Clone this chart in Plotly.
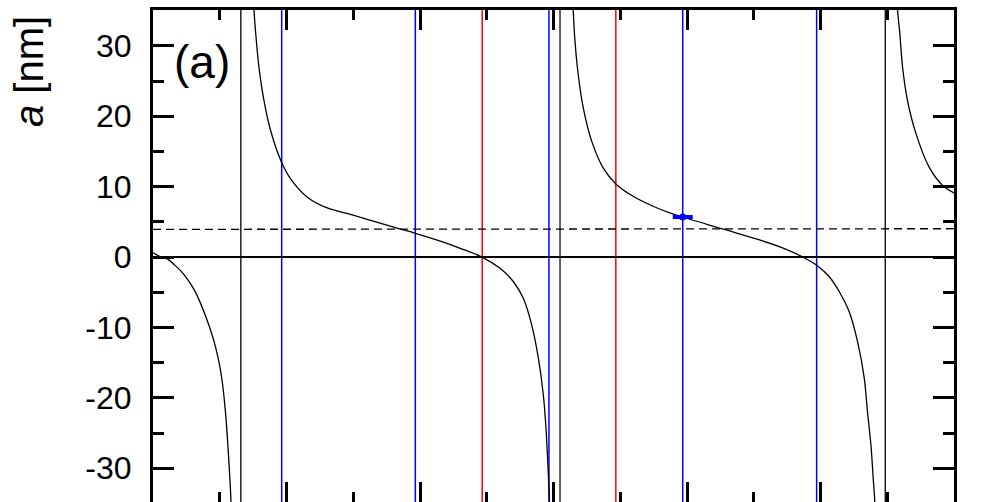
import plotly.graph_objects as go

# ---- data ----
seg1_x = [0.000, 0.060, 0.110, 0.160, 0.210, 0.260, 0.310, 0.350, 0.400, 0.440, 0.470, 0.500, 0.520, 0.545, 0.563, 0.578, 0.585, 0.590]
seg1_y = [0.6, 0.0, -0.3, -1.1, -2.0, -3.2, -4.7, -6.3, -8.7, -10.9, -12.9, -15.5, -17.9, -22.5, -27.4, -32.2, -35.0, -38.0]

seg2_x = [0.750, 0.757, 0.770, 0.794, 0.832, 0.882, 0.962, 1.031, 1.156, 1.305, 1.479, 1.579, 1.828, 1.965, 2.202, 2.301,
          2.468, 2.600, 2.700, 2.774, 2.837, 2.887, 2.924, 2.944, 2.957, 2.969, 2.975]
seg2_y = [38.0, 34.95, 31.6, 26.9, 22.15, 17.9, 13.5, 11.1, 8.5, 6.97, 6.05, 5.5, 4.1, 3.37, 1.95, 1.24,
          -0.04, -1.61, -3.51, -5.87, -9.67, -14.41, -19.63, -24.37, -29.12, -34.18, -38.0]

seg3_x = [3.142, 3.148, 3.161, 3.185, 3.223, 3.286, 3.372, 3.467, 3.596, 3.746, 3.871, 3.970, 4.294, 4.543, 4.743, 4.867,
          4.974, 5.066, 5.141, 5.215, 5.278, 5.328, 5.352, 5.378, 5.395, 5.405, 5.410]
seg3_y = [38.0, 34.95, 30.68, 25.93, 21.19, 16.46, 12.66, 10.38, 8.63, 7.21, 6.26, 5.65, 3.84, 2.42, 1.1, 0.0,
          -1.2, -2.80, -4.94, -7.78, -12.05, -17.25, -22.0, -26.74, -31.48, -34.18, -38.0]

seg4_x = [5.572, 5.577, 5.594, 5.614, 5.651, 5.714, 5.813, 5.913, 6.000]
seg4_y = [38.0, 35.1, 31.8, 27.1, 22.3, 17.6, 12.8, 10.2, 9.1]

pole_lines = [0.658, 5.485]          # thin black verticals
pole_gray = [3.049]                  # gray vertical
blue_lines = [0.964, 1.965, 2.966, 3.968, 4.971]
red_lines = [2.466, 3.467]

dashed_x = [0.0, 6.0]
dashed_y = [3.93, 4.02]

meas_x = [3.968]
meas_y = [5.68]
meas_err = [0.075]

y_tickvals = [-30, -20, -10, 0, 10, 20, 30]
y_ticktext = ["-30", "-20", "-10", "0", "10", "20", "30"]

FONT = "Liberation Sans, Arial, sans-serif"

curve_x = seg1_x + [None] + seg2_x + [None] + seg3_x + [None] + seg4_x
curve_y = seg1_y + [None] + seg2_y + [None] + seg3_y + [None] + seg4_y

fig = go.Figure()

shapes = []
for v in blue_lines:
    shapes.append(dict(type="line", xref="x", yref="paper", x0=v, x1=v, y0=0, y1=1,
                       line=dict(color="#0000ff", width=1.5), layer="below"))
for v in red_lines:
    shapes.append(dict(type="line", xref="x", yref="paper", x0=v, x1=v, y0=0, y1=1,
                       line=dict(color="#ff0000", width=1.5), layer="below"))
for v in pole_lines:
    shapes.append(dict(type="line", xref="x", yref="paper", x0=v, x1=v, y0=0, y1=1,
                       line=dict(color="#000000", width=1.3), layer="below"))
for v in pole_gray:
    shapes.append(dict(type="line", xref="x", yref="paper", x0=v, x1=v, y0=0, y1=1,
                       line=dict(color="#606060", width=2), layer="below"))
shapes.append(dict(type="line", xref="paper", yref="y", x0=0, x1=1, y0=0, y1=0,
                   line=dict(color="#000000", width=2), layer="below"))

fig.add_trace(go.Scatter(x=dashed_x, y=dashed_y, mode="lines",
                         line=dict(color="black", width=1.3, dash="8px,5px"), showlegend=False))
fig.add_trace(go.Scatter(x=curve_x, y=curve_y, mode="lines", connectgaps=False,
                         line=dict(color="black", width=1.3, shape="spline", smoothing=0.9),
                         showlegend=False))
fig.add_trace(go.Scatter(x=meas_x, y=meas_y, mode="markers",
                         marker=dict(color="#0000ff", size=7),
                         error_x=dict(type="data", array=meas_err, color="#0000ff", thickness=4, width=0),
                         showlegend=False))

fig.update_layout(
    width=989, height=502,
    margin=dict(l=153, r=35, t=10, b=0),
    plot_bgcolor="white", paper_bgcolor="white",
    shapes=shapes,
    showlegend=False,
    xaxis=dict(range=[0, 6], showline=True, linecolor="black", linewidth=3, mirror="ticks",
               ticks="inside", ticklen=20, tickwidth=3, tickcolor="black", dtick=1, tick0=0,
               showticklabels=False, showgrid=False, zeroline=False,
               minor=dict(ticks="inside", ticklen=10, tickwidth=3, tickcolor="black", dtick=0.5, showgrid=False)),
    yaxis=dict(range=[-34.8, 35.09], showline=True, linecolor="black", linewidth=3, mirror="ticks",
               ticks="inside", ticklen=21, tickwidth=3, tickcolor="black",
               tickvals=y_tickvals, ticktext=y_ticktext,
               tickfont=dict(family=FONT, size=32, color="black"), ticklabelstandoff=12,
               showgrid=False, zeroline=False,
               minor=dict(ticks="inside", ticklen=11, tickwidth=3, tickcolor="black", dtick=5, tick0=0, showgrid=False)),
    annotations=[
        dict(text="<i>a</i> [nm]", xref="paper", yref="paper", x=-0.1548, y=0.874,
             xanchor="center", yanchor="middle", textangle=-90, showarrow=False,
             font=dict(family=FONT, size=40, color="black")),
        dict(text="(a)", xref="paper", yref="paper", x=0.024, y=0.894,
             xanchor="left", yanchor="middle", showarrow=False,
             font=dict(family=FONT, size=46, color="black")),
    ],
)

fig.write_html("out.html")
